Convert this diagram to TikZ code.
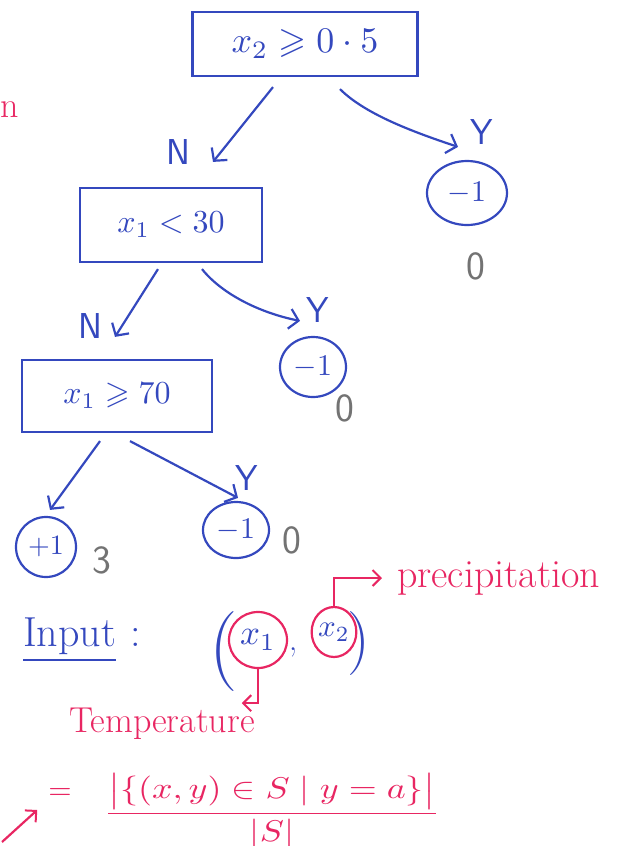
\documentclass[tikz,border=0pt]{standalone}
\usepackage{amsmath,amssymb}
\usetikzlibrary{arrows.meta,shapes.geometric,calc}
\definecolor{pen}{RGB}{52,72,190}
\definecolor{ink}{RGB}{232,38,98}
\definecolor{lead}{RGB}{115,115,115}
\newcommand\mybigmath[2]{\scalebox{#1}{$#2$}}
\begin{document}
\begin{tikzpicture}[x=1pt,y=-1pt,line width=2.2pt,
  testbox/.style={draw=pen,text=pen,rectangle,inner sep=0pt},
  leaf/.style={draw=pen,text=pen,ellipse,inner sep=0pt},
  arr/.style={draw=pen,-{Straight Barb[length=9pt,width=20pt,line width=2.2pt]}},
  parr/.style={draw=ink,-{Straight Barb[length=8pt,width=16pt,line width=2pt]}},
  branch/.style={text=pen,inner sep=0pt,font=\sffamily\fontsize{36}{40}\selectfont},
  count/.style={text=lead,inner sep=0pt,font=\sffamily\fontsize{40}{44}\selectfont},
  pinktext/.style={text=ink,inner sep=0pt,font=\fontsize{36}{40}\selectfont},
  bluetext/.style={text=pen,inner sep=0pt,font=\fontsize{42}{46}\selectfont}]
\useasboundingbox (0,0) rectangle (616,846);
% tree
\node[testbox,minimum width=225pt,minimum height=64pt] (root) at (305,44) {\mybigmath{3.6}{x_2 \geqslant 0\cdot 5}};
\node[testbox,minimum width=182pt,minimum height=74pt] (b2) at (171,225) {\mybigmath{3.2}{x_1 < 30}};
\node[testbox,minimum width=190pt,minimum height=72pt] (b3) at (117,396) {\mybigmath{3.2}{x_1 \geqslant 70}};
\node[leaf,minimum width=80pt,minimum height=64pt] (l1) at (467,193) {\mybigmath{3}{-1}};
\node[leaf,minimum width=66pt,minimum height=60pt] (l2) at (313,367) {\mybigmath{3}{-1}};
\node[leaf,minimum width=60pt,minimum height=60pt] (l3) at (46,547) {\mybigmath{2.8}{+1}};
\node[leaf,minimum width=66pt,minimum height=56pt] (l4) at (236,530) {\mybigmath{3}{-1}};
\draw[arr] ($(root.south)+(-32,10)$) -- ($(b2.north)+(42,-25)$);
\draw[arr] ($(root.south)+(35,12)$) .. controls +(25,25) and +(-45,-15) .. ($(l1.north)+(-9,-13)$);
\draw[arr] ($(b2.south)+(-13,6)$) -- ($(b3.north)+(-2,-22)$);
\draw[arr] ($(b2.south)+(31,6)$) .. controls +(20,25) and +(-40,-8) .. ($(l2.north)+(-13,-15)$);
\draw[arr] ($(b3.south)+(-17,8)$) -- ($(l3.north)+(4,-6)$);
\draw[arr] ($(b3.south)+(13,8)$) -- ($(l4.north)+(2,-3)$);
\node[branch] (n1) at (178,152) {N};
\node[branch] (y1) at (482,132) {Y};
\node[branch] (n2) at (90,326) {N};
\node[branch] (y2) at (318,310) {Y};
\node[branch] (y3) at (247,478) {Y};
\node[count] (c1) at (476,266) {0};
\node[count] (c2) at (345,408) {0};
\node[count] (c3) at (102,560) {3};
\node[count] (c4) at (292,540) {0};
\node[pinktext] (cut) at (10,110) {n};
% input
\node[bluetext,anchor=west] (inp) at (22,640) {\underline{Input}\,\,:};
\node[text=pen,inner sep=0pt,font=\fontsize{80}{80}\selectfont] (lp) at (224,652) {(};
\node[text=pen,inner sep=0pt,font=\fontsize{64}{64}\selectfont] (rp) at (359,644) {)};
\node[ellipse,draw=ink,text=pen,inner sep=0pt,minimum width=58pt,minimum height=56pt] (x1) at (258,640) {\mybigmath{3.5}{x_1}};
\node[text=pen,inner sep=0pt,font=\fontsize{34}{38}\selectfont] (cm) at (293,652) {,};
\node[ellipse,draw=ink,text=pen,inner sep=0pt,minimum width=44pt,minimum height=50pt] (x2) at (334,632) {\mybigmath{3.1}{x_2}};
\node[pinktext,anchor=west,font=\fontsize{40}{44}\selectfont] (prec) at (396,578) {precipitation};
\node[pinktext] (temp) at (162,724) {Temperature};
\draw[parr,shorten >=14pt] (x2.north) |- (prec.west);
\draw[parr] (x1.south) |- ($(temp.north east)+(-14,-4)$);
% formula
\node[text=ink,inner sep=0pt] (eq) at (60,794) {\mybigmath{3}{=}};
\node[text=ink,inner sep=0pt] (frac) at (272,811) {\scalebox{3.6}[3.0]{$\dfrac{\bigl|\{(x,y)\in S \mid y=a\}\bigr|}{|S|}$}};
\coordinate (fa) at (2,842);
\draw[parr] (fa) -- ($(eq.west)+(-10,16)$);
\end{tikzpicture}
\end{document}
